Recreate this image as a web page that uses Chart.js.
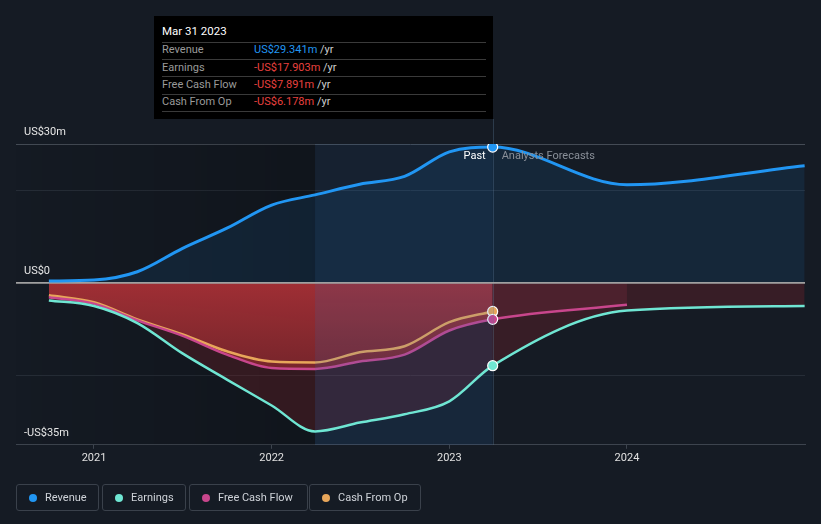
<!DOCTYPE html>
<html>
<head>
<meta charset="utf-8">
<script src="https://cdn.jsdelivr.net/npm/chart.js@4/dist/chart.umd.min.js"></script>
<style>
html,body{margin:0;padding:0;background:#151b24;}
#wrap{position:relative;width:821px;height:524px;overflow:hidden;font-family:Roboto,"Noto Sans",sans-serif;}
#c{position:absolute;left:0;top:0;}
#tip{position:absolute;left:154px;top:16px;width:339px;height:103px;background:#000;}
#tip .title{position:absolute;left:8px;top:7px;font-size:11.5px;font-weight:400;color:#fff;line-height:16px;}
#tip .sep{position:absolute;left:8px;width:324px;height:1px;background:#3a3a3a;}
#tip .lab{position:absolute;left:8px;font-size:11px;color:#9a9a9a;line-height:14px;}
#tip .val{position:absolute;left:100px;font-size:11px;line-height:14px;white-space:pre;}
#legend .item{position:absolute;top:484px;height:25px;border:1px solid #3a414b;border-radius:3px;box-sizing:content-box;}
#legend .dot{position:absolute;top:9px;width:8px;height:8px;border-radius:50%;}
#legend .txt{position:absolute;top:5px;font-size:11px;color:#cfd3d9;line-height:15px;white-space:nowrap;}
</style>
</head>
<body>
<div id="wrap">
  <canvas id="c" width="821" height="524"></canvas>
  <div id="tip"></div>
  <div id="legend"></div>
</div>
<script>
// ---------- data ----------
const quarters = [2020.746, 2021.0, 2021.244, 2021.496, 2021.748, 2022.0, 2022.244, 2022.496, 2022.748, 2023.0, 2023.244];
const forecastYears = [2024.0, 2025.0];
const revenuePast = [0.4, 0.6, 2.4, 7.4, 11.8, 16.8, 19.0, 21.3, 23.0, 28.3, 29.341];
const revenueForecast = [21.2, 25.3];
const earningsPast = [-3.8, -5.0, -8.7, -15.2, -20.9, -26.5, -32.1, -30.2, -28.4, -25.6, -17.903];
const earningsForecast = [-6.0, -5.0];
const fcfPast = [-3.1, -4.5, -8.1, -11.4, -15.5, -18.4, -18.6, -17.0, -15.5, -10.3, -7.891];
const fcfForecast = [-4.75];
const cfoPast = [-2.7, -4.2, -7.9, -11.1, -14.8, -17.0, -17.2, -15.0, -13.7, -8.5, -6.178];
const xTickYears = [2021, 2022, 2023, 2024];
const yGridValues = [-35, -20, 0, 20, 30];
const yLabelValues = [30, 0, -35];
const yLabelTexts = ['US$30m', 'US$0', '-US$35m'];
const seriesNames = ['Revenue', 'Earnings', 'Free Cash Flow', 'Cash From Op'];
const tipDate = 'Mar 31 2023';
const tipValues = ['US$29.341m', '-US$17.903m', '-US$7.891m', '-US$6.178m'];
const xMin = 2020.561, xMax = 2025.002;
const highlightStart = 2022.244, pastEnd = 2023.244;

// ---------- styles ----------
const colors = {rev:'#2196f3', earn:'#6fe6d3', fcf:'#c8468c', cfo:'#e8a65a'};
const legendColors = [colors.rev, colors.earn, colors.fcf, colors.cfo];
const LAST = quarters.length - 1;

function pts(xs, ys){ return ys.map((v,i)=>({x:xs[i], y:v})); }
const revData = pts(quarters.concat(forecastYears), revenuePast.concat(revenueForecast));
const earnData = pts(quarters.concat(forecastYears), earningsPast.concat(earningsForecast));
const fcfData = pts(quarters.concat(forecastYears.slice(0,1)), fcfPast.concat(fcfForecast));
const cfoData = pts(quarters, cfoPast);

const cv = document.getElementById('c');
const cx = cv.getContext('2d');
let redGrad = null;
function getRedGrad(){
  if(!redGrad){
    redGrad = cx.createLinearGradient(0, 283, 0, 375);
    redGrad.addColorStop(0, 'rgba(164,48,53,0.96)');
    redGrad.addColorStop(1, 'rgba(122,37,44,0.93)');
  }
  return redGrad;
}

function fillDs(data, bg, order, extra){
  return Object.assign({data, fill:'origin', backgroundColor:bg, borderColor:'transparent', borderWidth:0,
    pointRadius:0, cubicInterpolationMode:'monotone', order}, extra||{});
}
function lineDs(data, col, order, w){
  return {data, fill:false, borderColor:col, borderWidth:w||2.5, backgroundColor:col,
    pointRadius:(c)=>c.dataIndex===LAST?5:0, pointHoverRadius:0, pointBackgroundColor:col,
    pointBorderColor:'#ffffff', pointBorderWidth:1.2, cubicInterpolationMode:'monotone', order};
}

const datasets = [
  fillDs(revData, 'rgba(33,150,243,0.10)', 20),
  fillDs(earnData, 'rgba(200,40,50,0.19)', 19),
  fillDs(fcfData, getRedGrad(), 18, {segment:{backgroundColor:(c)=>c.p0DataIndex>=LAST?'rgba(200,60,90,0.15)':getRedGrad()}}),
  lineDs(cfoData, colors.cfo, 10),
  lineDs(fcfData, colors.fcf, 9),
  lineDs(earnData, colors.earn, 2),
  lineDs(revData, colors.rev, 1, 3)
];
const FCF_LINE_INDEX = 4;

const decor = {
  id:'decor',
  beforeDatasetsDraw(chart){
    const {ctx, chartArea:a, scales:{x}} = chart;
    const xs = x.getPixelForValue(highlightStart);
    const g = ctx.createLinearGradient(a.left,0,xs,0);
    g.addColorStop(0,'rgba(0,0,0,0.02)');
    g.addColorStop(1,'rgba(0,0,0,0.22)');
    ctx.save(); ctx.fillStyle=g; ctx.fillRect(a.left,a.top,xs-a.left,a.bottom-a.top); ctx.restore();
  },
  afterDatasetDraw(chart,args){
    if(args.index!==FCF_LINE_INDEX) return;
    const {ctx, chartArea:a, scales:{x,y}} = chart;
    const x0 = x.getPixelForValue(highlightStart), x1 = x.getPixelForValue(pastEnd);
    const y0 = y.getPixelForValue(0);
    ctx.save();
    ctx.fillStyle='rgba(30,100,180,0.09)';
    ctx.fillRect(x0,a.top,x1-x0,y0-a.top);
    ctx.fillStyle='rgba(35,110,200,0.14)';
    ctx.fillRect(x0,y0,x1-x0,a.bottom-y0);
    ctx.strokeStyle='rgba(90,120,150,0.35)'; ctx.lineWidth=1;
    ctx.beginPath(); ctx.moveTo(Math.round(x1)+0.5,119); ctx.lineTo(Math.round(x1)+0.5,a.bottom); ctx.stroke();
    ctx.strokeStyle='#a0a0a0'; ctx.lineWidth=1.6;
    ctx.beginPath(); ctx.moveTo(a.left,y0); ctx.lineTo(a.right,y0); ctx.stroke();
    ctx.restore();
  },
  afterDraw(chart){
    const {ctx, chartArea:a, scales:{x,y}} = chart;
    ctx.save();
    ctx.font='11px Roboto, "Noto Sans", sans-serif';
    ctx.textBaseline='middle';
    ctx.fillStyle='#e6e6e6';
    ctx.textAlign='left';
    yLabelValues.forEach((v,i)=>{ ctx.fillText(yLabelTexts[i], a.left+8, y.getPixelForValue(v)-12); });
    const xp = x.getPixelForValue(pastEnd);
    const ty = y.getPixelForValue(30)+12;
    ctx.textAlign='right'; ctx.fillStyle='#ffffff';
    ctx.fillText('Past', xp-7, ty);
    ctx.textAlign='left'; ctx.fillStyle='#8a9099';
    ctx.fillText('Analysts Forecasts', xp+9, ty);
    ctx.restore();
  }
};

new Chart(cv, {
  type:'line',
  data:{datasets},
  options:{
    responsive:false, animation:false, devicePixelRatio:1,
    layout:{padding:{left:16, right:16, top:144, bottom:56}},
    plugins:{legend:{display:false}, tooltip:{enabled:false}},
    scales:{
      x:{type:'linear', min:xMin, max:xMax,
        afterBuildTicks:(s)=>{ s.ticks = xTickYears.map(v=>({value:v})); },
        ticks:{callback:(v)=>String(v), color:'#e0e0e0', font:{family:'Roboto', size:11}, padding:3, maxRotation:0, autoSkip:false},
        grid:{display:true, drawOnChartArea:false, drawTicks:true, tickLength:4, color:'#3d444e'},
        border:{display:true, color:'#3d444e', width:1}
      },
      y:{type:'linear', min:-35, max:30,
        afterBuildTicks:(s)=>{ s.ticks = yGridValues.map(v=>({value:v})); },
        ticks:{display:false},
        grid:{drawTicks:false, color:(c)=>{ const v=c.tick&&c.tick.value; if(v===30) return '#444b55'; if(v===0||v===-35) return 'rgba(0,0,0,0)'; return '#262d37'; }},
        border:{display:false}
      }
    }
  },
  plugins:[decor]
});

// ---------- tooltip box ----------
const tip = document.getElementById('tip');
let html = '<div class="title">'+tipDate+'</div>';
const valColors = ['#2196f3','#e8413f','#e8413f','#e8413f'];
for(let i=0;i<4;i++){
  const top = 25.7 + 17.3*i;
  html += '<div class="sep" style="top:'+top.toFixed(1)+'px"></div>';
  html += '<div class="lab" style="top:'+(top+1.5).toFixed(1)+'px">'+seriesNames[i]+'</div>';
  html += '<div class="val" style="top:'+(top+1.5).toFixed(1)+'px"><span style="color:'+valColors[i]+'">'+tipValues[i]+'</span><span style="color:#cfcfcf"> /yr</span></div>';
}
html += '<div class="sep" style="top:95px"></div>';
tip.innerHTML = html;

// ---------- legend ----------
const lg = document.getElementById('legend');
const boxes = [[16,81],[102,82],[189,117],[309,110]];
let lh='';
seriesNames.forEach((n,i)=>{
  const [l,w]=boxes[i];
  lh += '<div class="item" style="left:'+l+'px;width:'+w+'px"><div class="dot" style="left:12px;background:'+legendColors[i]+'"></div><div class="txt" style="left:28px">'+n+'</div></div>';
});
lg.innerHTML = lh;
</script>
</body>
</html>
